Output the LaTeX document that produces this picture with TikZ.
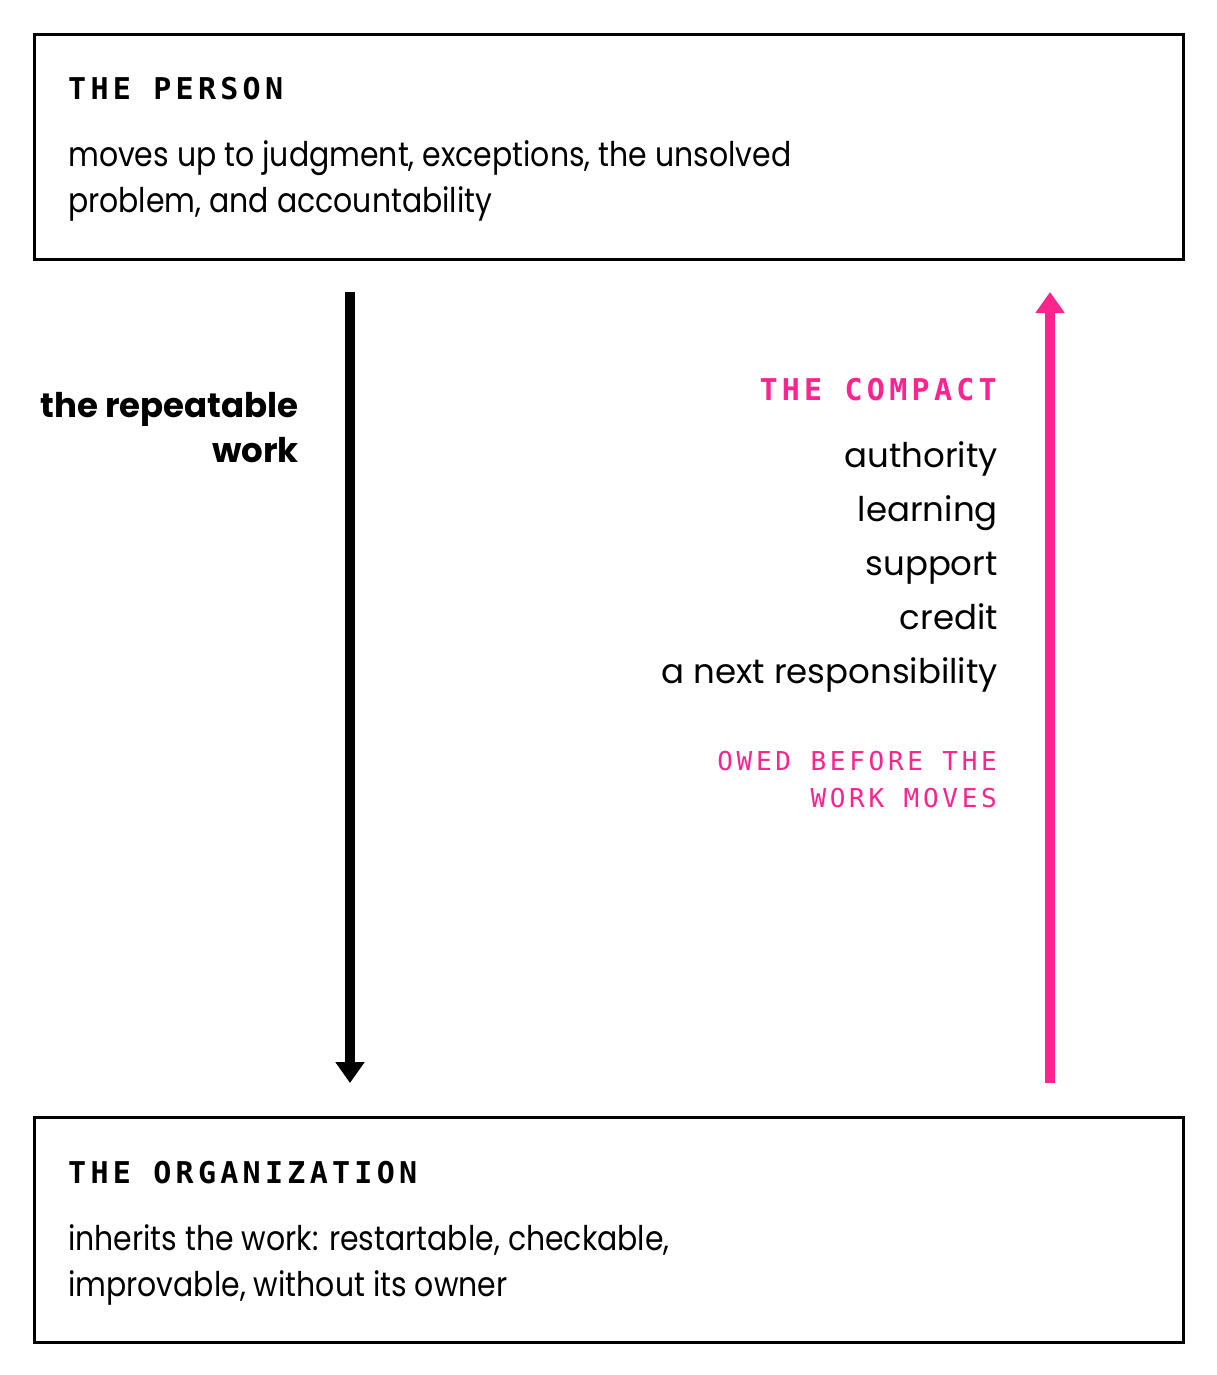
\documentclass[tikz,border=0pt]{standalone}
\usepackage{fontspec}
\setmainfont{Poppins}
\newfontfamily\boxfont{Poppins}[FakeStretch=0.88]
\newfontfamily\monobold{DejaVu Sans Mono Bold}[LetterSpace=14.3]
\newfontfamily\monoreg{DejaVu Sans Mono}[LetterSpace=14.3]
\definecolor{compactpink}{HTML}{FF2390}
\usetikzlibrary{arrows.meta}
\begin{document}
\begin{tikzpicture}[x=1pt,y=-1pt,
  panel/.style={draw=black, line width=3pt, minimum width=1149pt, minimum height=225pt, inner sep=0pt, anchor=north west},
  heading/.style={inner sep=0pt, anchor=base west, font=\monobold\fontsize{30}{36}\selectfont},
  bodytext/.style={inner sep=0pt, anchor=base west, font=\boxfont\fontsize{34}{45}\selectfont},
  listitem/.style={inner sep=0pt, anchor=base east, font=\fontsize{34}{40}\selectfont},
  sidetext/.style={inner sep=0pt, anchor=base east, font=\fontsize{34}{45}\selectfont\bfseries},
  pinkmono/.style={inner sep=0pt, anchor=base east, text=compactpink},
  flow/.style={line width=10pt, -{Triangle[width=28pt,length=21pt]}}
]
\useasboundingbox (0,0) rectangle (1216,1375);
\node[panel] (person) at (33,33) {};
\node[panel] (org) at (33,1116) {};
\node[heading] (personhead) at (68,100) {THE PERSON};
\node[bodytext] (persontext1) at (68,167) {moves up to judgment, exceptions, the unsolved};
\node[bodytext] (persontext2) at (68,212) {problem, and accountability};
\node[heading] (orghead) at (68,1183) {THE ORGANIZATION};
\node[bodytext] (orgtext1) at (68,1250) {inherits the work: restartable, checkable,};
\node[bodytext] (orgtext2) at (68,1296) {improvable, without its owner};

\coordinate (downtop) at (350,292);
\coordinate (downbot) at (350,1083);
\draw[flow, black] (downtop) -- (downbot);
\coordinate (upbot) at (1050,1083);
\coordinate (uptop) at (1050,292);
\draw[flow, compactpink] (upbot) -- (uptop);

\node[sidetext] (work1) at (299,417) {the repeatable};
\node[sidetext] (work2) at (299,462) {work};

\node[pinkmono, font=\monobold\fontsize{30}{36}\selectfont] (compact) at (997,400) {THE COMPACT};
\node[listitem] (i1) at (998,467) {authority};
\node[listitem] (i2) at (998,521) {learning};
\node[listitem] (i3) at (998,575) {support};
\node[listitem] (i4) at (998,629) {credit};
\node[listitem] (i5) at (998,683) {a next responsibility};
\node[pinkmono, font=\monoreg\fontsize{26}{32}\selectfont] (owed1) at (997,770) {OWED BEFORE THE};
\node[pinkmono, font=\monoreg\fontsize{26}{32}\selectfont] (owed2) at (997,807) {WORK MOVES};
\end{tikzpicture}
\end{document}
